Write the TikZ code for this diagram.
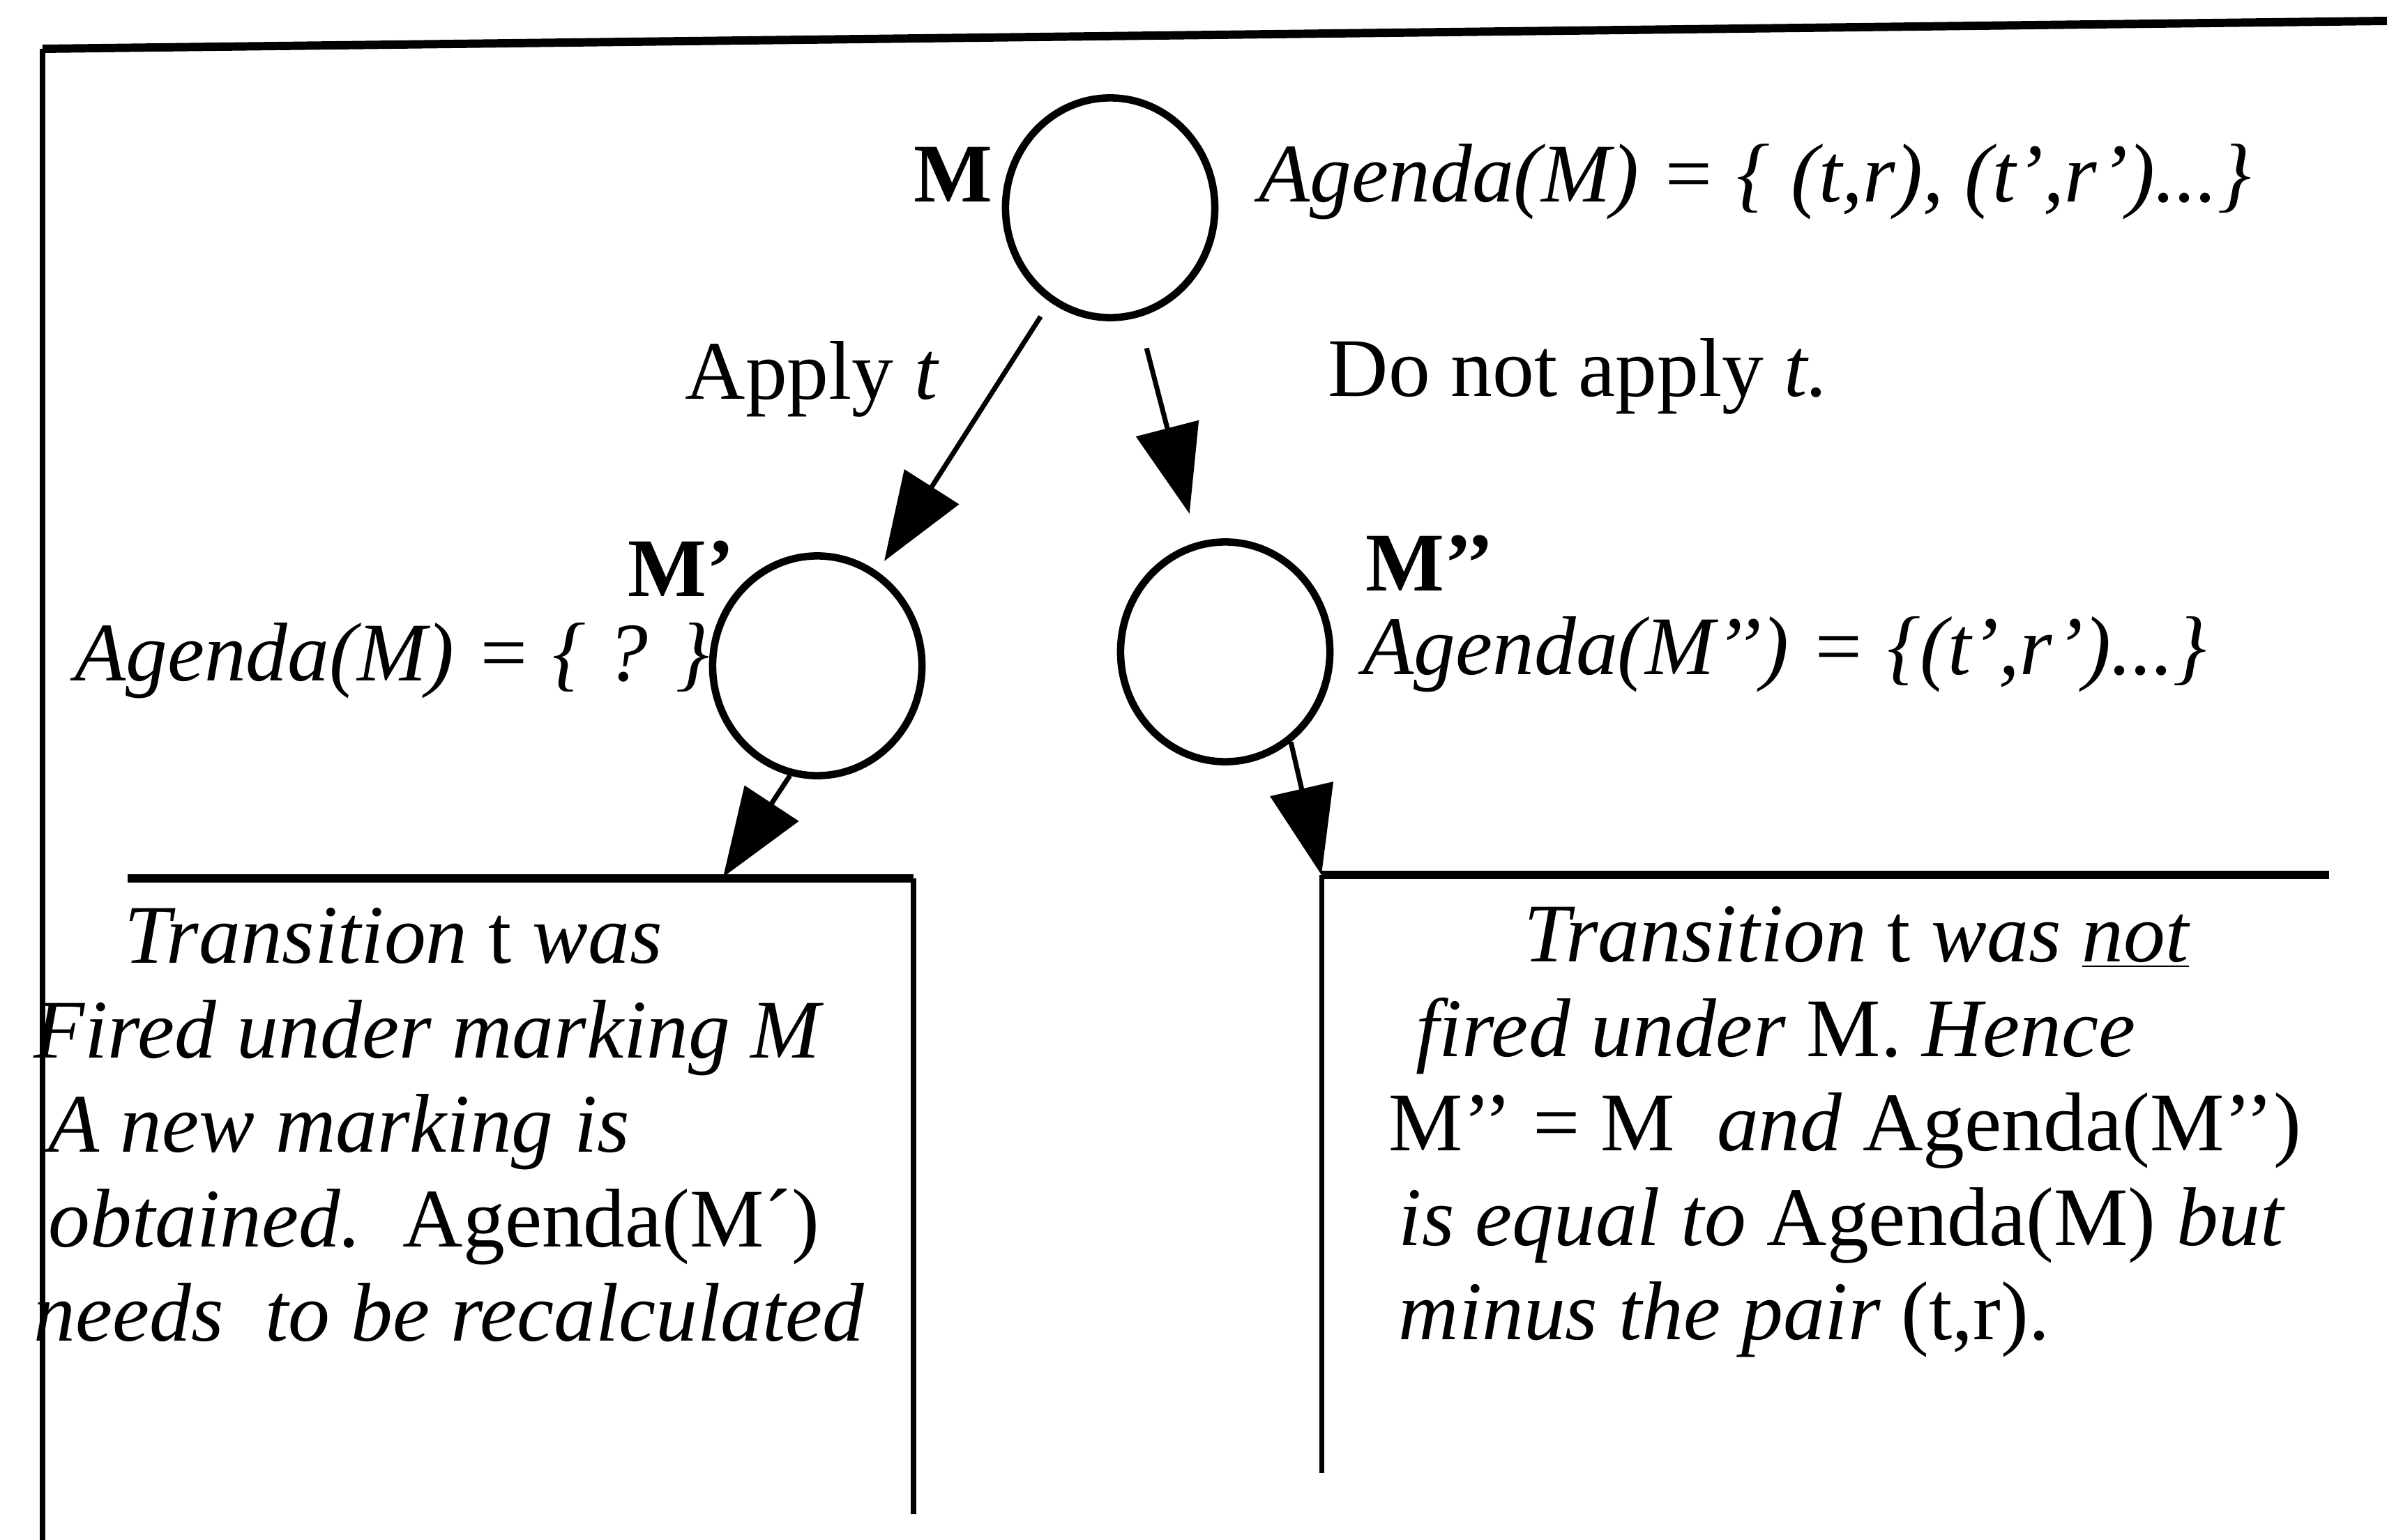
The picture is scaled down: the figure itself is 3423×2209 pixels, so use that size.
\documentclass[tikz,border=0pt]{standalone}
\usepackage{fontspec}
\setmainfont{Liberation Serif}
\usetikzlibrary{positioning, shapes.geometric, arrows.meta}

\begin{document}
\fontsize{34}{38.5}\selectfont
\begin{tikzpicture}[
	x=0.01cm, y=-0.01cm,
	marking/.style={draw, ellipse, line width=3pt, minimum width=3cm, minimum height=3.15cm, inner sep=0pt},
	mname/.style={font=\bfseries, inner sep=0pt},
	agenda/.style={font=\itshape, inner sep=0pt},
	tlabel/.style={inner sep=0pt},
	note/.style={align=left, inner sep=0pt, anchor=north west},
	arrow/.style={-{Triangle[length=36pt, width=26pt]}, line width=2pt},
	topline/.style={line width=3.4pt},
	sideline/.style={line width=2pt}
	]
	\useasboundingbox (0,0) rectangle (3423,2209);
	
	% Frame
	\draw[sideline] (61,2209) -- (61,70);
	\draw[topline] (61,70) -- (3423,30);
	
	% Markings
	\node[marking] (m)   at (1592,298) {};
	\node[marking] (mp)  at (1172,955) {};
	\node[marking] (mpp) at (1757,935) {};
	
	% Names and agendas
	\node[mname, anchor=base] (mlab) at (1367,290) {M};
	\node[agenda, anchor=base west] (magenda) at (1805,290) {Agenda(M) = \{ (t,r), (t’,r’)...\}};
	\node[mname, anchor=base west] (mplab) at (900,855) {M’};
	\node[agenda, anchor=base east] (mpagenda) at (1018,976) {Agenda(M) = \{ ? \}};
	\node[mname, anchor=base west] (mpplab) at (1958,847) {M’’};
	\node[agenda, anchor=base west] (mppagenda) at (1954,967) {Agenda(M’’) = \{(t’,r’)...\}};
	
	% Branch labels
	\node[tlabel, anchor=base] (apply) at (1165,572) {Apply \textit{t}};
	\node[tlabel, anchor=base west] (noapply) at (1904,568) {Do not apply \textit{t.}};
	
	% Boxes
	\coordinate (lin) at (1037,1258);
	\coordinate (ltl) at (183,1260);
	\coordinate (ltr) at (1310,1260);
	\coordinate (lbr) at (1310,2172);
	\coordinate (rtl) at (1895,1255);
	\coordinate (rtr) at (3340,1255);
	\coordinate (rbl) at (1895,2113);
	\draw[topline] (ltl) -- (ltr);
	\draw[sideline] (ltr) -- (lbr);
	\draw[topline] (rtl) -- (rtr);
	\draw[sideline] (rtl) -- (rbl);
	
	% Arrows
	\draw[arrow, shorten <=7pt, shorten >=5pt] (m) -- (mp);
	\draw[arrow, shorten <=13pt, shorten >=12pt] (m) -- (mpp);
	\draw[arrow] (mp.-104) -- (lin);
	\draw[arrow] (mpp.-54) -- (rtl);
	
	% Box texts
	\node[note] (firednote) at (48,1302) {%
		\hspace*{37pt}\textit{Transition} t \textit{was}\\
		\textit{Fired under marking M}\\
		\hspace*{6pt}\textit{A new marking is}\\
		\hspace*{6pt}\textit{obtained.}\ \ Agenda(M´)\\
		\textit{needs\ \ to be recalculated}};
	\node[note] (notfirednote) at (1991,1300) {%
		\hspace*{55pt}\textit{Transition} t \textit{was \underline{not}}\\
		\hspace*{11pt}\textit{fired under} M. \textit{Hence}\\
		M’’ = M\ \ \textit{and} Agenda(M’’)\\
		\hspace*{4pt}\textit{is equal to} Agenda(M) \textit{but}\\
		\hspace*{4pt}\textit{minus the pair} (t,r).};
	
\end{tikzpicture}
\end{document}
